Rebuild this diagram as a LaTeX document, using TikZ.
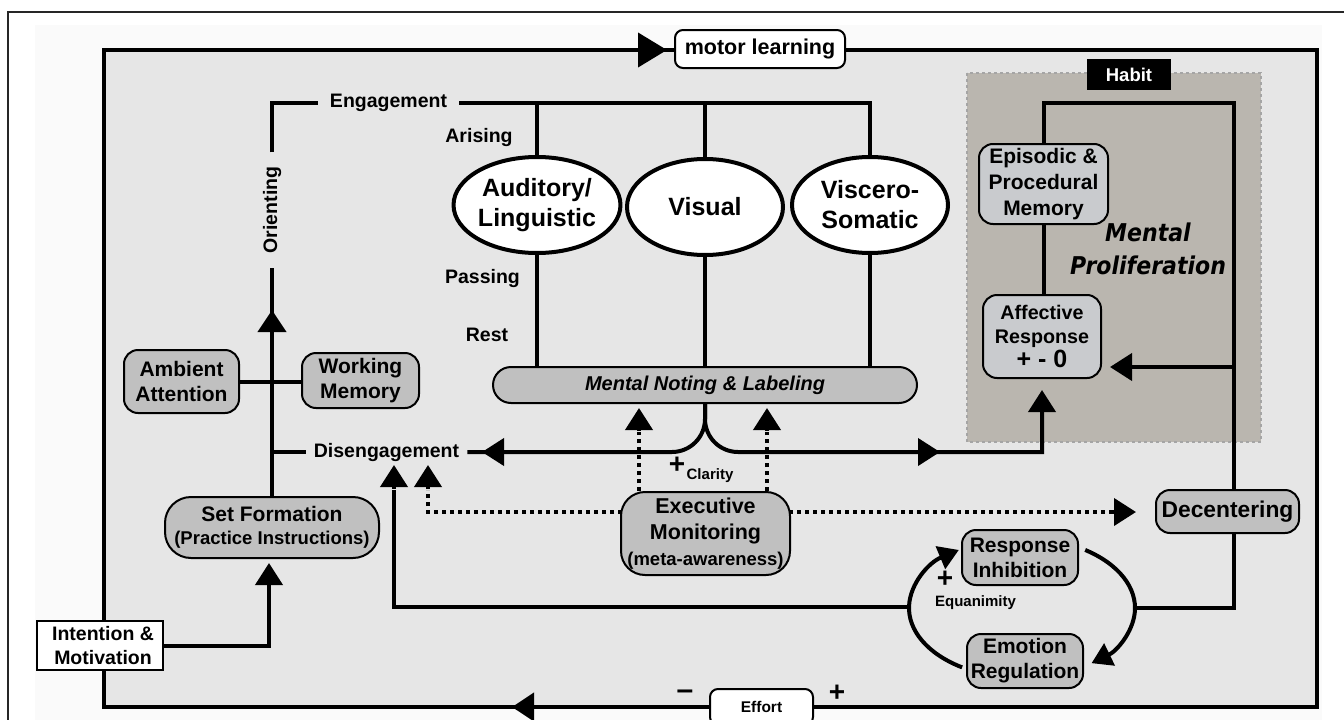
\documentclass[tikz,border=0pt]{standalone}
\usepackage{fontspec}
\setmainfont{Liberation Sans}
\newfontfamily\mpfont{DejaVu Sans}[FakeStretch=0.9]
\usetikzlibrary{arrows.meta,shapes.geometric}
\definecolor{innerbg}{HTML}{E6E6E6}
\definecolor{marginbg}{HTML}{FAFAFA}
\definecolor{boxgray}{HTML}{C0C0C0}
\definecolor{memgray}{HTML}{C9CBCE}
\definecolor{habitbg}{HTML}{BAB6AF}
\definecolor{habitborder}{HTML}{A5A5A5}
\newcommand{\myfs}[2]{\fontsize{#1}{#2}\selectfont}
\tikzset{
  ln/.style={line width=4pt},
  tip/.style={-{Triangle[length=22pt,width=27pt]}},
  dotl/.style={line width=4pt, dash pattern=on 4pt off 4pt},
  gbox/.style={draw, line width=2pt, fill=boxgray, rounded corners=14pt, align=center, inner sep=0pt, font=\bfseries\myfs{21}{25}},
  lbox/.style={gbox, fill=memgray},
  wbox/.style={draw, line width=2pt, fill=white, inner sep=0pt, align=center},
  ell/.style={ellipse, draw, line width=4pt, fill=white, inner sep=0pt, align=center, minimum width=156pt, minimum height=96pt, font=\bfseries\myfs{25}{30}},
  lab/.style={font=\bfseries\myfs{19.5}{22}, inner sep=0pt},
  small/.style={font=\bfseries\myfs{15}{15}, inner sep=0pt},
  sign/.style={font=\bfseries\myfs{28}{28}, inner sep=0pt},
}
\begin{document}
\begin{tikzpicture}[x=1pt,y=-1pt]
\useasboundingbox (0,0) rectangle (1344,720);
\fill[white] (0,0) rectangle (1344,720);
\fill[marginbg] (35,25) rectangle (1322,720);
\draw[line width=1.6pt, draw=black!85] (8,730) -- (8,12) -- (1350,12);
\draw[ln, fill=innerbg] (104,50) rectangle (1317,707);
% habit region
\draw[habitborder, dashed, line width=1.2pt, fill=habitbg] (967,73) rectangle (1261,442);
\node[fill=black, text=white, minimum width=84pt, minimum height=31pt, inner sep=0pt, font=\bfseries\myfs{18.5}{20}] (habit) at (1129,74.5) {Habit};
\node[font=\mpfont\bfseries\itshape\myfs{24.5}{33}, align=center, inner sep=0pt] (mp) at (1148,249) {Mental\\Proliferation};
% top / bottom
\node[wbox, rounded corners=8pt, minimum width=170pt, minimum height=38pt, font=\bfseries\myfs{21.5}{24}] (motor) at (760,49) {motor learning};
\node[wbox, rounded corners=8pt, minimum width=103pt, minimum height=36pt, font=\bfseries\myfs{15.5}{18}] (effort) at (761.5,707) {Effort};
\node[font=\bfseries\myfs{30}{30}, inner sep=0pt] (minus) at (685,695) {--};
\node[sign] (plusE) at (837,693) {+};
% labels
\node[lab, inner xsep=12pt] (eng) at (388.5,103) {Engagement};
\node[lab, rotate=90, inner xsep=14pt] (orient) at (272,210) {Orienting};
\node[lab, inner xsep=8pt] (dis) at (386.5,452) {Disengagement};
\node[lab] (arising) at (479,137) {Arising};
\node[lab] (passing) at (482.5,278) {Passing};
\node[lab] (rest) at (487,335) {Rest};
% ellipses
\node[ell] (aud) at (537,205) {Auditory/\\Linguistic};
\node[ell] (vis) at (705,207) {Visual};
\node[ell] (visc) at (870,205) {Viscero-\\Somatic};
% boxes
\node[gbox, rounded corners=18pt, minimum width=424pt, minimum height=36pt, font=\bfseries\itshape\myfs{20}{22}] (mnl) at (705,385) {Mental Noting \& Labeling};
\node[gbox, minimum width=115pt, minimum height=63pt] (amb) at (181.5,381.5) {Ambient\\Attention};
\node[gbox, minimum width=117pt, minimum height=55pt] (wm) at (360.5,380.5) {Working\\Memory};
\node[gbox, rounded corners=26pt, minimum width=214pt, minimum height=61pt, font=\bfseries\myfs{21}{23}] (setf) at (272,527.5) {Set Formation\\{\myfs{18.5}{22}(Practice Instructions)}};
\node[wbox, minimum width=126pt, minimum height=49pt, font=\bfseries\myfs{19.5}{24}] (intent) at (100,645.5) {\hspace*{6pt}Intention \&\\\hspace*{6pt}Motivation};
\node[gbox, rounded corners=24pt, minimum width=169pt, minimum height=83pt, font=\bfseries\myfs{21.5}{26}] (em) at (705.5,533.5) {Executive\\Monitoring\\{\myfs{18.5}{22}(meta-awareness)}};
\node[gbox, minimum width=143pt, minimum height=43pt, font=\bfseries\myfs{22.8}{25}] (dec) at (1227.5,511.5) {Decentering};
\node[lbox, minimum width=129pt, minimum height=80pt, font=\bfseries\myfs{21}{26}] (epi) at (1043.5,184) {Episodic \&\\Procedural\\Memory};
\node[lbox, minimum width=118pt, minimum height=83pt, font=\bfseries\myfs{19.7}{24}] (aff) at (1042,336.5) {Affective\\Response\\{\myfs{25}{28}+ - 0}};
\node[gbox, minimum width=116pt, minimum height=55pt] (resp) at (1020,557.5) {Response\\Inhibition};
\node[gbox, minimum width=116pt, minimum height=54pt] (emo) at (1025,661) {Emotion\\Regulation};
\node[sign] (plusC) at (677,465) {+};
\node[small] (clar) at (710,476) {Clarity};
\node[sign] (plusQ) at (945,579) {+};
\node[small] (equa) at (975.5,603) {Equanimity};
% top & bottom arrows
\draw[ln, -{Triangle[length=29pt,width=34pt]}] (600,50) -- (667,50);
\draw[ln, -{Triangle[length=22pt,width=28pt]}] (560,707) -- (512,707);
% engagement / orienting
\draw[ln] (orient.east) -- (272,103) -- (eng.west);
\draw[ln] (eng.east) -- (visc.north |- eng.east) -- (visc.north);
\draw[ln] (aud.north |- eng.east) -- (aud.north);
\draw[ln] (vis.north |- eng.east) -- (vis.north);
\draw[ln] (aud.south) -- (aud.south |- mnl.north);
\draw[ln] (vis.south) -- (vis.south |- mnl.north);
\draw[ln] (visc.south) -- (visc.south |- mnl.north);
\draw[ln] (setf.north) -- (orient.west);
\draw[ln, -{Triangle[length=22pt,width=28pt]}] (272,340) -- (272,310);
\draw[ln] (amb.east) -- (amb.east -| wm.west);
\draw[ln] (setf.north |- dis.west) -- (dis.west);
% intention
\draw[ln, tip] (intent.east) -- (269,645.5) -- (269,563);
% noting branches
\draw[ln, rounded corners=33pt] (mnl.south) -- (705,452) -- (dis.east);
\draw[ln, tip] (512,452) -- (482,452);
\draw[ln, tip] (mnl.south) [rounded corners=33pt] -- (705,452) [sharp corners] -- (1042,452) -- (1042,390);
\draw[ln, tip] (905,452) -- (940,452);
% dotted
\draw[dotl] (em.north -| 639,0) -- (639,432);
\draw[ln, tip] (639,431) -- (639,408);
\draw[dotl] (em.north -| 767,0) -- (767,432);
\draw[ln, tip] (767,431) -- (767,408);
\draw[dotl] (622,512) -- (428,512) -- (428,490);
\draw[ln, tip] (428,489) -- (428,465);
\draw[dotl] (789,512) -- (1112,512);
\draw[ln, tip] (1112,512) -- (1136,512);
% solid return
\draw[ln] (909,607) -- (394,607) -- (394,490);
\draw[ln, tip] (394,489) -- (394,465);
% right loop
\draw[ln] (dec.north -| 1234,0) -- (1234,103) -- (epi.north |- 0,103) -- (epi.north);
\draw[ln] (epi.south) -- (epi.south |- aff.north);
\draw[ln, tip] (1234,367) -- (1110,367);
\draw[ln] (dec.south -| 1234,0) -- (1234,608) -- (1135,608);
% equanimity loop
\draw[ln, -{Triangle[length=20pt,width=24pt]}] (1022,608) ++(122:113 and 70) arc[start angle=122, end angle=236, x radius=113, y radius=70];
\draw[ln, -{Triangle[length=20pt,width=24pt]}] (1022,608) ++(-56:113 and 70) arc[start angle=-56, end angle=52, x radius=113, y radius=70];
\end{tikzpicture}
\end{document}
